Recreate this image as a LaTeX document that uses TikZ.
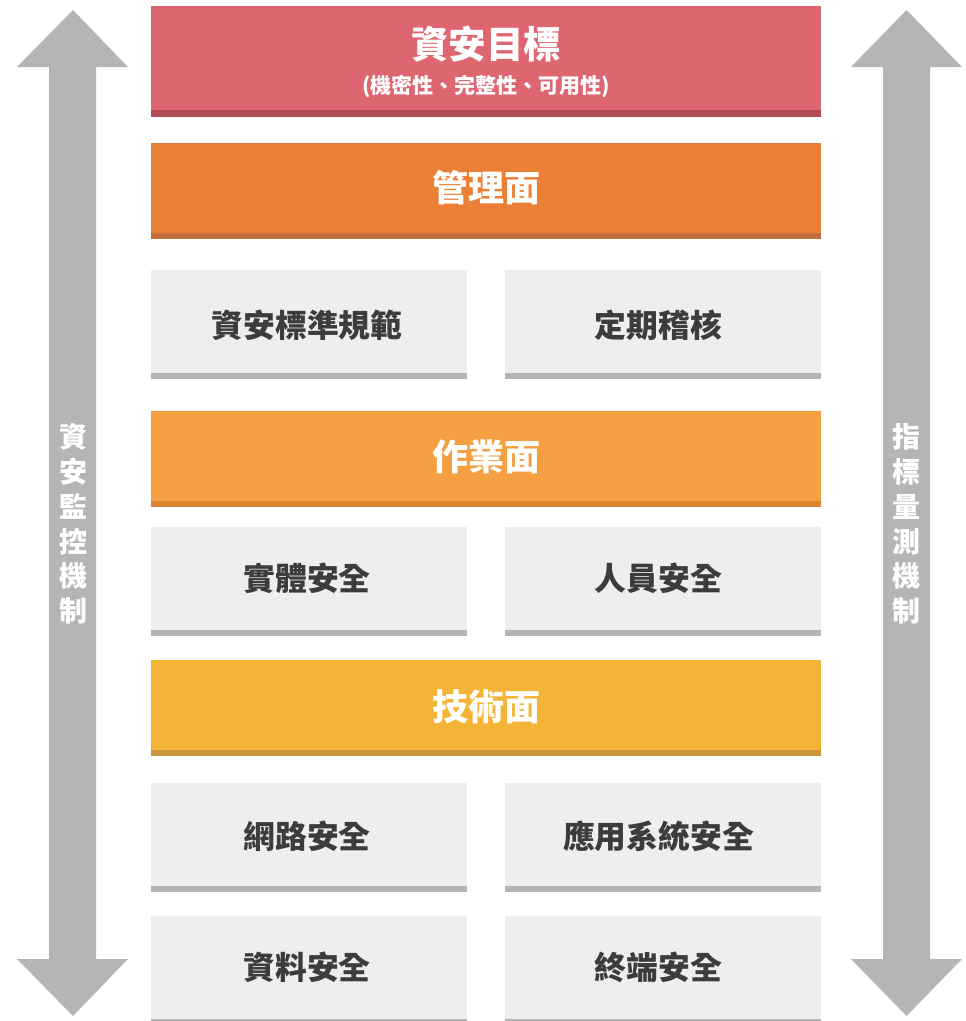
\documentclass[tikz,border=0pt]{standalone}
\usepackage{fontspec}
\setmainfont{Noto Sans CJK TC}
\definecolor{goalred}{HTML}{DE6670}
\definecolor{goaldark}{HTML}{B04A55}
\definecolor{mgmt}{HTML}{EC7F36}
\definecolor{mgmtdark}{HTML}{C46E3C}
\definecolor{oper}{HTML}{F49F42}
\definecolor{operdark}{HTML}{D9852D}
\definecolor{tech}{HTML}{F4B437}
\definecolor{techdark}{HTML}{C9963A}
\definecolor{boxgray}{HTML}{EEEEEE}
\definecolor{stripgray}{HTML}{B4B5B4}
\definecolor{arrowgray}{HTML}{B4B6B5}
\definecolor{txt}{HTML}{3C3C3C}
\tikzset{
  panel/.style={rectangle, inner sep=0pt, outer sep=0pt, draw=none},
  bartext/.style={text=white, font=\bfseries\fontsize{36}{40}\selectfont, inner sep=0pt},
  boxtext/.style={text=txt, font=\bfseries\fontsize{31.8}{36}\selectfont, inner sep=0pt},
  sidetext/.style={text=white, font=\bfseries\fontsize{28}{34.8}\selectfont, align=center, inner sep=0pt},
}
\begin{document}
\begin{tikzpicture}[x=1pt,y=-1pt]
\useasboundingbox (0,0) rectangle (966,1021);
% side arrows
\fill[arrowgray] (73,10) -- (128,67) -- (96,67) -- (96,959) -- (128,959) -- (73,1016) -- (17,959) -- (49,959) -- (49,67) -- (17,67) -- cycle;
\fill[arrowgray] (906.5,10) -- (962,67) -- (930,67) -- (930,959) -- (962,959) -- (906.5,1016) -- (851,959) -- (883,959) -- (883,67) -- (851,67) -- cycle;
\node[sidetext] (lside) at (73,524) {資\\安\\監\\控\\機\\制};
\node[sidetext] (rside) at (906.5,524) {指\\標\\量\\測\\機\\制};
% goal bar
\fill[goaldark] (151,6) rectangle (821,117);
\fill[goalred] (151,6) rectangle (821,110);
\node[bartext, font=\bfseries\fontsize{37.5}{42}\selectfont] (goal) at (486,44) {資安目標};
\node[text=white, font=\bfseries\fontsize{21}{24}\selectfont, inner sep=0pt] (goalsub) at (486,87) {(機密性、完整性、可用性)};
% management
\fill[mgmtdark] (151,143) rectangle (821,239);
\fill[mgmt] (151,143) rectangle (821,233);
\node[bartext] (mgmt) at (486,188) {管理面};
\fill[stripgray] (151,270) rectangle (467,379);
\fill[boxgray] (151,270) rectangle (467,373);
\node[boxtext] (std) at (307,325) {資安標準規範};
\fill[stripgray] (505,270) rectangle (821,379);
\fill[boxgray] (505,270) rectangle (821,373);
\node[boxtext] (audit) at (658.5,325) {定期稽核};
% operation
\fill[operdark] (151,411) rectangle (821,507);
\fill[oper] (151,411) rectangle (821,501);
\node[bartext] (oper) at (486,457) {作業面};
\fill[stripgray] (151,527) rectangle (467,636);
\fill[boxgray] (151,527) rectangle (467,630);
\node[boxtext] (phys) at (307,578) {實體安全};
\fill[stripgray] (505,527) rectangle (821,636);
\fill[boxgray] (505,527) rectangle (821,630);
\node[boxtext] (pers) at (658.5,578) {人員安全};
% technical
\fill[techdark] (151,660) rectangle (821,756);
\fill[tech] (151,660) rectangle (821,750);
\node[bartext] (tech) at (486,707) {技術面};
\fill[stripgray] (151,783) rectangle (467,892);
\fill[boxgray] (151,783) rectangle (467,886);
\node[boxtext] (net) at (307,836) {網路安全};
\fill[stripgray] (505,783) rectangle (821,892);
\fill[boxgray] (505,783) rectangle (821,886);
\node[boxtext] (app) at (658.5,836) {應用系統安全};
\fill[stripgray] (151,916) rectangle (467,1021);
\fill[boxgray] (151,916) rectangle (467,1019);
\node[boxtext] (data) at (307,967) {資料安全};
\fill[stripgray] (505,916) rectangle (821,1021);
\fill[boxgray] (505,916) rectangle (821,1019);
\node[boxtext] (endp) at (658.5,967) {終端安全};
\end{tikzpicture}
\end{document}
